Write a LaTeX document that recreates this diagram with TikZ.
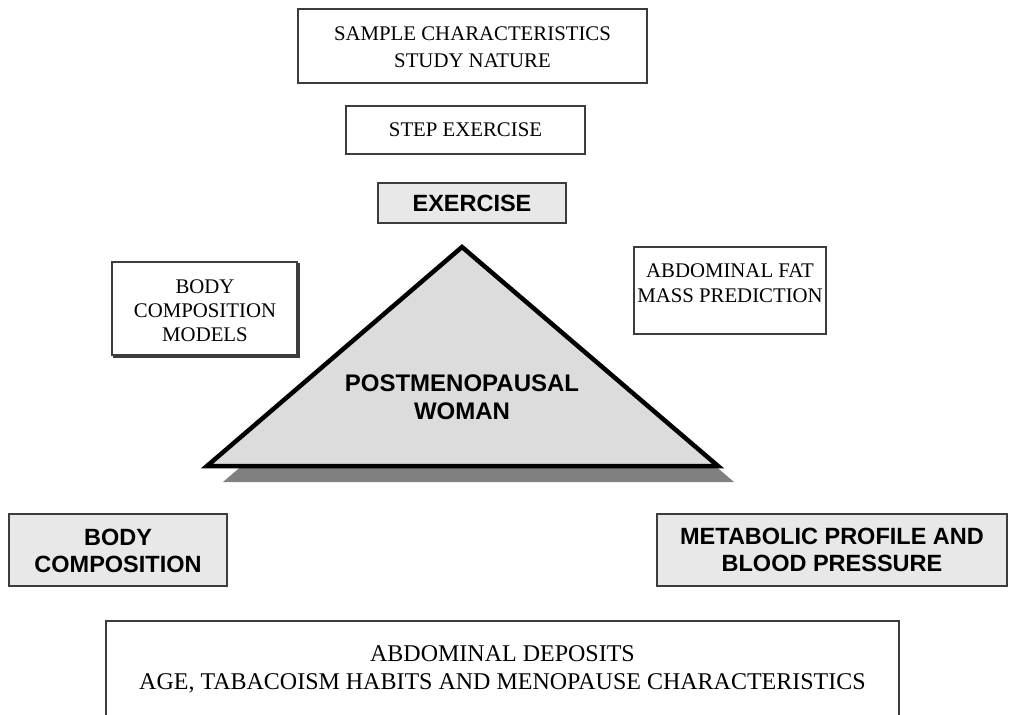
\documentclass[tikz,border=0pt]{standalone}
\usepackage{fontspec}
\setmainfont{Liberation Serif}
\setsansfont{Liberation Sans}
\usepackage{xcolor}
\definecolor{boxline}{RGB}{60,60,60}
\definecolor{boxfill}{RGB}{232,232,232}
\definecolor{trifill}{RGB}{220,220,220}
\definecolor{trishadow}{RGB}{128,128,128}

\begin{document}
\begin{tikzpicture}[x=1pt,y=1pt,yscale=-1,xscale=1,
  plainbox/.style={draw=boxline,line width=1.2},
  greybox/.style={draw=boxline,fill=boxfill,line width=1.2},
  serif text/.style={font=\fontsize{20.8}{27}\selectfont,align=center,inner sep=0},
  bold text/.style={font=\sffamily\bfseries\fontsize{23.5}{27}\selectfont,align=center,inner sep=0}]
\useasboundingbox (0,0) rectangle (1010,715);

%Shape: Rectangle [sample]
\draw [plainbox] (298,9) rectangle (647,83) ;
%Shape: Rectangle [step]
\draw [plainbox] (346,106) rectangle (585,154) ;
%Shape: Rectangle [exercise]
\draw [greybox] (378,183) rectangle (566,223) ;
%Shape: Rectangle [models, with its back sheet]
\draw [plainbox,fill=white] (114,264) rectangle (299,357) ;
\draw [plainbox,fill=white] (112,262) rectangle (297,355) ;
%Shape: Rectangle [fat]
\draw [plainbox] (634,247) rectangle (826,334) ;

%Shape: Triangle [shadow]
\fill [trishadow] (478,263) -- (223,482) -- (734,482) -- cycle ;
%Shape: Triangle [woman]
\draw [fill=trifill,line width=4.5] (462,247) -- (207,466) -- (718,466) -- cycle ;

%Shape: Rectangle [body]
\draw [greybox] (9,514) rectangle (227,586) ;
%Shape: Rectangle [metabolic]
\draw [greybox] (657,514) rectangle (1007,586) ;
%Shape: Open Rectangle [deposits]
\draw [plainbox] (106,715) -- (106,621) -- (899,621) -- (899,715) ;

% Text Node
\node [serif text] (sample) at (472.5,47) {SAMPLE CHARACTERISTICS\\STUDY NATURE};
% Text Node
\node [serif text] (step) at (465.5,130) {STEP EXERCISE};
% Text Node
\node [bold text] (exercise) at (472,203) {EXERCISE};
% Text Node
\node [serif text,font=\fontsize{20.8}{24}\selectfont] (models) at (205,311) {BODY\\COMPOSITION\\MODELS};
% Text Node
\node [serif text,font=\fontsize{20.8}{25}\selectfont] (fat) at (730,283) {ABDOMINAL FAT\\MASS PREDICTION};
% Text Node
\node [bold text,font=\sffamily\bfseries\fontsize{24}{28}\selectfont] (woman) at (462,397) {POSTMENOPAUSAL\\WOMAN};
% Text Node
\node [bold text] (body) at (118,551) {BODY\\COMPOSITION};
% Text Node
\node [bold text] (metabolic) at (832,550) {METABOLIC PROFILE AND\\BLOOD PRESSURE};
% Text Node
\node [serif text,font=\fontsize{24}{28}\selectfont] (deposits) at (502.5,669) {ABDOMINAL DEPOSITS\\AGE, TABACOISM HABITS AND MENOPAUSE CHARACTERISTICS};

\end{tikzpicture}
\end{document}
